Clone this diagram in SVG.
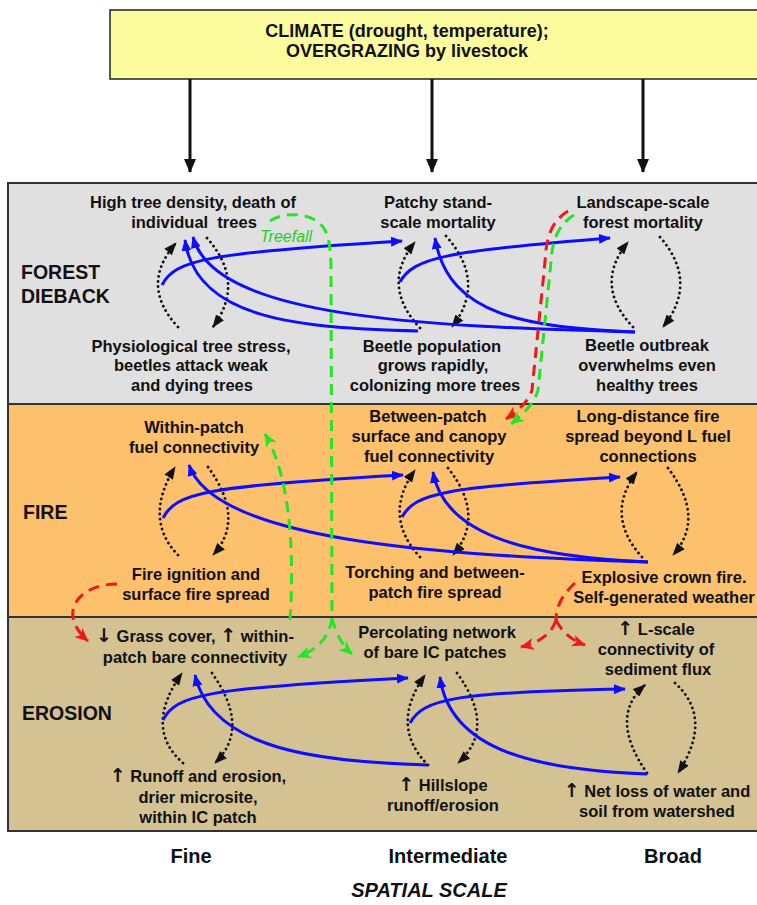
<svg xmlns="http://www.w3.org/2000/svg" width="757" height="905" viewBox="0 0 757 905">
<style>
text{font-family:"Liberation Sans",Arial,sans-serif;fill:#111;}
.n{font-size:16.5px;font-weight:bold;text-anchor:middle;}
.row{font-size:19.5px;font-weight:bold;}
.ax{font-size:20px;font-weight:bold;text-anchor:middle;}
.arw{font-family:"DejaVu Sans",sans-serif;font-weight:bold;font-size:19px;}
.blue{fill:none;stroke:#0d0dff;stroke-width:3;marker-end:url(#ab);}
.dot{fill:none;stroke:#111;stroke-width:2.8;stroke-linecap:round;stroke-dasharray:0.1 5;marker-end:url(#ak);}
.gd{fill:none;stroke:#22e622;stroke-width:3;stroke-dasharray:11 7;}
.rd{fill:none;stroke:#f01818;stroke-width:3;stroke-dasharray:11 7;}
.top{fill:none;stroke:#111;stroke-width:3;marker-end:url(#at);}
</style>
<defs>
<marker id="ab" viewBox="0 0 12 10" refX="11" refY="5" markerWidth="12" markerHeight="10" markerUnits="userSpaceOnUse" orient="auto"><path d="M0,0 L12,5 L0,10 z" fill="#0d0dff"/></marker>
<marker id="ak" viewBox="0 0 13 10" refX="12" refY="5" markerWidth="13" markerHeight="10" markerUnits="userSpaceOnUse" orient="auto"><path d="M0,0 L13,5 L0,10 z" fill="#111"/></marker>
<marker id="at" viewBox="0 0 14 12" refX="13" refY="6" markerWidth="14" markerHeight="12" markerUnits="userSpaceOnUse" orient="auto"><path d="M0,0 L14,6 L0,12 z" fill="#111"/></marker>
<marker id="ag" viewBox="0 0 14 12" refX="13" refY="6" markerWidth="14" markerHeight="12" markerUnits="userSpaceOnUse" orient="auto"><path d="M0,0 L14,6 L0,12 L4,6 z" fill="#22e622"/></marker>
<marker id="ar" viewBox="0 0 14 12" refX="13" refY="6" markerWidth="14" markerHeight="12" markerUnits="userSpaceOnUse" orient="auto"><path d="M0,0 L14,6 L0,12 L4,6 z" fill="#f01818"/></marker>
</defs>
<rect x="0" y="0" width="757" height="905" fill="#ffffff"/>
<g id="panels">
<rect x="8" y="183" width="760" height="221" fill="#e0e0e0"/>
<rect x="8" y="404" width="760" height="213" fill="#fdc06c"/>
<rect x="8" y="617" width="760" height="214" fill="#d4c293"/>
<g stroke="#333" stroke-width="2">
<line x1="8" y1="183" x2="760" y2="183"/>
<line x1="8" y1="404" x2="760" y2="404"/>
<line x1="8" y1="617" x2="760" y2="617"/>
<line x1="8" y1="831" x2="760" y2="831"/>
<line x1="8" y1="182" x2="8" y2="832"/>
</g>
<text class="row" x="21" y="279">FOREST</text>
<text class="row" x="21" y="303">DIEBACK</text>
<text class="row" x="23" y="519">FIRE</text>
<text class="row" x="22" y="720">EROSION</text>
</g>
<g id="climate">
<rect x="110" y="10" width="660" height="69" fill="#fcfc9e" stroke="#222" stroke-width="1.5"/>
<text class="n" style="font-size:18px" x="407" y="37">CLIMATE (drought, temperature);</text>
<text class="n" style="font-size:18px" x="407" y="57">OVERGRAZING by livestock</text>
</g>
<g id="connectors">
<path class="top" d="M190,79 L190,172"/>
<path class="top" d="M432,79 L432,172"/>
<path class="top" d="M643,79 L643,172"/>
<path class="dot" d="M178,327 Q139,285 176,243"/>
<path class="dot" d="M207,238 Q246,282 213,327"/>
<path class="dot" d="M420,328 Q380,285 415,242"/>
<path class="dot" d="M446,236 Q487,282 452,327"/>
<path class="dot" d="M633,327 Q593,285 628,242"/>
<path class="dot" d="M660,237 Q699,282 663,327"/>
<path class="dot" d="M178,555 Q143,519 175,467"/>
<path class="dot" d="M208,467 Q246,519 213,555"/>
<path class="dot" d="M420,557 Q382,516 415,470"/>
<path class="dot" d="M448,468 Q486,516 453,555"/>
<path class="dot" d="M642,557 Q604,515 637,472"/>
<path class="dot" d="M668,468 Q706,518 673,555"/>
<path class="dot" d="M183,763 Q143,728 182,673"/>
<path class="dot" d="M212,673 Q251,728 215,763"/>
<path class="dot" d="M428,765 Q389,726 425,675"/>
<path class="dot" d="M457,673 Q497,728 458,763"/>
<path class="dot" d="M647,773 Q608,717 645,685"/>
<path class="dot" d="M675,683 Q714,718 678,773"/>
<path class="blue" d="M162,285 C175,260 205,253 402,241"/>
<path class="blue" d="M400,282 C413,258 445,251 610,238"/>
<path class="blue" d="M635,332 C420,326 215,318 193,237"/>
<path class="blue" d="M418,331 C300,328 196,320 185,240"/>
<path class="blue" d="M635,332 C530,327 448,318 435,238"/>
<path class="blue" d="M163,518 C176,493 205,486 403,475"/>
<path class="blue" d="M402,517 C415,493 445,487 620,477"/>
<path class="blue" d="M648,562 C430,555 215,540 189,465"/>
<path class="blue" d="M648,562 C540,557 445,540 433,472"/>
<path class="blue" d="M163,720 C176,695 205,688 408,678"/>
<path class="blue" d="M410,723 C423,699 455,692 625,689"/>
<path class="blue" d="M428,765 C320,762 212,750 195,675"/>
<path class="blue" d="M647,774 C540,770 450,752 440,677"/>
<path class="gd" d="M270,221 C285,211 315,212 325,230 C330,240 331,255 331,270 L332,618"/>
<path class="gd" style="marker-end:url(#ag)" d="M332,618 Q329,645 298,657"/>
<path class="gd" style="marker-end:url(#ag)" d="M332,618 Q338,642 352,654"/>
<path class="gd" style="marker-end:url(#ag)" d="M290,620 C294,560 292,480 265,434"/>
<path class="rd" style="marker-end:url(#ar)" d="M568,211 C550,222 546,240 545,262 L532,390 Q528,404 506,419"/>
<path class="gd" style="marker-end:url(#ag)" d="M574,215 C556,226 552,244 551,262 L538,390 Q534,406 511,424"/>
<path class="rd" style="marker-end:url(#ar)" d="M117,584 C80,584 55,612 88,641"/>
<path class="rd" d="M575,583 Q556,600 556,620"/>
<path class="rd" style="marker-end:url(#ar)" d="M556,620 Q550,640 521,647"/>
<path class="rd" style="marker-end:url(#ar)" d="M556,620 Q565,638 585,645"/>
</g>
<g id="n-treefall"><text x="260" y="242" style="font-size:16px;font-style:italic;fill:#22d022">Treefall</text></g>
<g id="n-high-density"><text class="n" x="193" y="208">High tree density, death of</text><text class="n" x="194" y="228" style="white-space:pre">individual  trees</text></g>
<g id="n-patchy"><text class="n" x="438" y="208">Patchy stand-</text><text class="n" x="438" y="228">scale mortality</text></g>
<g id="n-landscape"><text class="n" x="643" y="208">Landscape-scale</text><text class="n" x="643" y="228">forest mortality</text></g>
<g id="n-physio"><text class="n" x="191" y="352">Physiological tree stress,</text><text class="n" x="191" y="371">beetles attack weak</text><text class="n" x="192" y="391">and dying trees</text></g>
<g id="n-beetle-pop"><text class="n" x="432" y="352">Beetle population</text><text class="n" x="433" y="371">grows rapidly,</text><text class="n" x="435" y="391">colonizing more trees</text></g>
<g id="n-beetle-out"><text class="n" x="647" y="351">Beetle outbreak</text><text class="n" x="647" y="371">overwhelms even</text><text class="n" x="647" y="391">healthy trees</text></g>
<g id="n-within-fuel"><text class="n" x="194" y="433">Within-patch</text><text class="n" x="194" y="453">fuel connectivity</text></g>
<g id="n-between-fuel"><text class="n" x="428" y="422">Between-patch</text><text class="n" x="429" y="442">surface and canopy</text><text class="n" x="429" y="462">fuel connectivity</text></g>
<g id="n-long-distance"><text class="n" x="648" y="422">Long-distance fire</text><text class="n" x="648" y="442">spread beyond L fuel</text><text class="n" x="648" y="462">connections</text></g>
<g id="n-ignition"><text class="n" x="196" y="580">Fire ignition and</text><text class="n" x="196" y="600">surface fire spread</text></g>
<g id="n-torching"><text class="n" x="435" y="578">Torching and between-</text><text class="n" x="435" y="598">patch fire spread</text></g>
<g id="n-crown"><text class="n" x="664" y="583">Explosive crown fire.</text><text class="n" x="664" y="603">Self-generated weather</text></g>
<g id="n-grass"><text class="n" x="195" y="642"><tspan class="arw">↓</tspan> Grass cover, <tspan class="arw">↑</tspan> within-</text><text class="n" x="195" y="663">patch bare connectivity</text></g>
<g id="n-percolating"><text class="n" x="437" y="638">Percolating network</text><text class="n" x="435" y="658">of bare IC patches</text></g>
<g id="n-lscale"><text class="n" x="656" y="635"><tspan class="arw">↑</tspan> L-scale</text><text class="n" x="656" y="655">connectivity of</text><text class="n" x="658" y="675">sediment flux</text></g>
<g id="n-runoff"><text class="n" x="198" y="782"><tspan class="arw">↑</tspan> Runoff and erosion,</text><text class="n" x="198" y="803">drier microsite,</text><text class="n" x="198" y="823">within IC patch</text></g>
<g id="n-hillslope"><text class="n" x="443" y="791"><tspan class="arw">↑</tspan> Hillslope</text><text class="n" x="443" y="811">runoff/erosion</text></g>
<g id="n-netloss"><text class="n" x="657" y="797"><tspan class="arw">↑</tspan> Net loss of water and</text><text class="n" x="657" y="817">soil from watershed</text></g>
<g id="axis">
<text class="ax" x="191" y="863">Fine</text>
<text class="ax" x="448" y="863">Intermediate</text>
<text class="ax" x="673" y="863">Broad</text>
<text class="ax" x="429" y="897" style="font-style:italic">SPATIAL SCALE</text>
</g>
</svg>
